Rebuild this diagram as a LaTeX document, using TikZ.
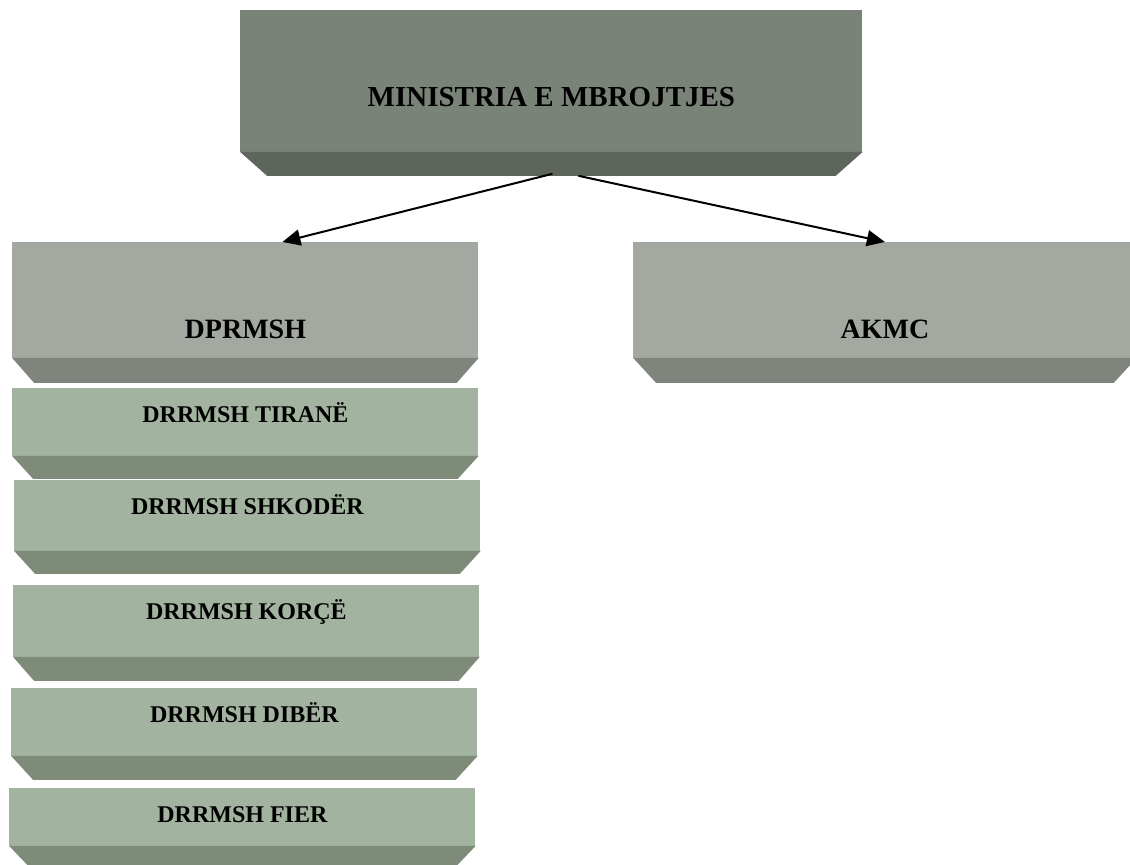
\documentclass[tikz,border=0pt]{standalone}
\usepackage{fontspec}
\setmainfont{Liberation Serif}
\usetikzlibrary{calc,arrows.meta}

\definecolor{topface}{HTML}{7A8377}
\definecolor{topside}{HTML}{5E665B}
\definecolor{midface}{HTML}{A3A8A1}
\definecolor{midside}{HTML}{7F847C}
\definecolor{lowface}{HTML}{A2B39F}
\definecolor{lowside}{HTML}{7E8B79}

% slanted underside of a box: node, inset, height, colour
\newcommand{\bevel}[4]{%
  \fill[#4] ($(#1.south west)+(0,-1)$) -- ($(#1.south east)+(0,-1)$)
    -- ($(#1.south east)+(-#2,#3)$) -- ($(#1.south west)+(#2,#3)$) -- cycle;}

\begin{document}
\begin{tikzpicture}[x=0.5pt,y=-0.5pt,
  face/.style={rectangle,anchor=north west,inner xsep=0pt,inner ysep=0pt},
  top/.style={face,fill=topface,text height=48pt,text depth=23pt,
    font=\fontsize{14.5}{16}\selectfont\bfseries},
  mid/.style={face,fill=midface,text height=48pt,text depth=10pt,
    font=\fontsize{14}{16}\selectfont\bfseries},
  low/.style={face,fill=lowface,minimum width=233pt,text height=17pt,
    font=\fontsize{12}{14}\selectfont\bfseries},
  arrow/.style={line width=1pt,-{Triangle[length=9pt,width=8pt]}}]
\useasboundingbox (0,0) rectangle (1130,865);

\node[top,minimum width=311pt] (min) at (240,10) {MINISTRIA E MBROJTJES};
\bevel{min}{27}{23}{topside}

\node[mid,minimum width=233pt] (dprmsh) at (12,242) {DPRMSH};
\bevel{dprmsh}{22}{24}{midside}
\node[mid,minimum width=251.5pt] (akmc) at (633,242) {AKMC};
\bevel{akmc}{23}{24}{midside}

\node[low,text depth=17pt] (tirane) at (12,388) {DRRMSH TIRANË};
\bevel{tirane}{21}{22}{lowside}
\node[low,text depth=18.5pt] (shkoder) at (14,480) {DRRMSH SHKODËR};
\bevel{shkoder}{21}{22}{lowside}
\node[low,text depth=19pt] (korce) at (13,585) {DRRMSH KORÇË};
\bevel{korce}{21}{23}{lowside}
\node[low,text depth=17pt] (diber) at (11,688) {DRRMSH DIBËR};
\bevel{diber}{22}{23}{lowside}
\node[low,text depth=12pt] (fier) at (9,788) {DRRMSH FIER};
\bevel{fier}{22}{22}{lowside}

\draw[arrow] ($(min.south)+(1,21)$) -- ($(dprmsh.north)+(37,0)$);
\draw[arrow] ($(min.south)+(27,23)$) -- (akmc.north);
\end{tikzpicture}
\end{document}
